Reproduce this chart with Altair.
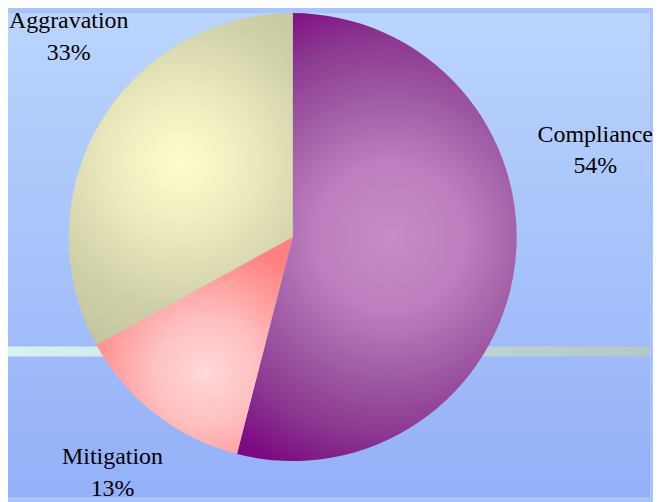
import math
import altair as alt
import pandas as pd

# ---- data ----
categories = ["Compliance", "Mitigation", "Aggravation"]
shares = [54, 13, 33]

df = pd.DataFrame({"category": categories, "share": shares})
df["end"] = df["share"].cumsum()
df["start"] = df["end"] - df["share"]
df["label"] = df["category"] + "\n" + df["share"].astype(str) + "%"

W, H = 645, 486
CX, CY, R = 286, 225, 225

bg_grad = {"gradient": "linear", "x1": 0, "y1": 0, "x2": 0, "y2": 1,
           "stops": [{"offset": 0, "color": "#bad5fd"},
                     {"offset": 1, "color": "#94b0f8"}]}
band_grad = {"gradient": "linear", "x1": 0, "y1": 0, "x2": 1, "y2": 0,
             "stops": [{"offset": 0, "color": "#d8f2f0"},
                       {"offset": 1, "color": "#b4c8c6"}]}

grads = {
    "Compliance": {"gradient": "radial", "x1": 0.53, "y1": 0.5, "x2": 0.53, "y2": 0.5,
                   "r1": 0, "r2": 0.56,
                   "stops": [{"offset": 0, "color": "#c88cc8"},
                             {"offset": 0.3, "color": "#bc7ebe"},
                             {"offset": 0.55, "color": "#a05ca4"},
                             {"offset": 0.8, "color": "#8a3690"},
                             {"offset": 1, "color": "#7e0a82"}]},
    "Mitigation": {"gradient": "radial", "x1": 0.55, "y1": 0.62, "x2": 0.55, "y2": 0.62,
                   "r1": 0, "r2": 0.6,
                   "stops": [{"offset": 0, "color": "#ffd8da"},
                             {"offset": 0.4, "color": "#ffc0c0"},
                             {"offset": 1, "color": "#ff8080"}]},
    "Aggravation": {"gradient": "radial", "x1": 0.5, "y1": 0.45, "x2": 0.5, "y2": 0.45,
                    "r1": 0, "r2": 0.6,
                    "stops": [{"offset": 0, "color": "#fffccc"},
                              {"offset": 0.3, "color": "#f0eec0"},
                              {"offset": 0.7, "color": "#d2d2aa"},
                              {"offset": 1, "color": "#c4c49e"}]},
}

label_pos = {"Compliance": (590, 129), "Mitigation": (105, 453), "Aggravation": (61, 15)}

one = pd.DataFrame({"k": [0]})
background = alt.Chart(one).mark_rect(fill=bg_grad, stroke=None).encode(
    x=alt.value(0), x2=alt.value(W), y=alt.value(0), y2=alt.value(H))
band = alt.Chart(one).mark_rect(fill=band_grad, stroke=None).encode(
    x=alt.value(0), x2=alt.value(W), y=alt.value(335), y2=alt.value(345))

theta_scale = alt.Scale(domain=[0, 100], range=[0, 2 * math.pi])
layers = [background, band]
for cat in categories:
    layers.append(
        alt.Chart(df).transform_filter(alt.datum.category == cat)
        .mark_arc(fill=grads[cat], radius=R, stroke=None)
        .encode(theta=alt.Theta("start:Q", scale=theta_scale),
                theta2="end:Q",
                x=alt.value(CX), y=alt.value(CY))
    )
for cat in categories:
    px, py = label_pos[cat]
    layers.append(
        alt.Chart(df).transform_filter(alt.datum.category == cat)
        .mark_text(fontSize=24, color="black", align="center", baseline="alphabetic",
                   lineBreak="\n", lineHeight=32)
        .encode(text="label:N", x=alt.value(px), y=alt.value(py))
    )

chart = alt.layer(*layers).properties(
    width=W, height=H, padding=0, background="#a8c4fa"
).configure_view(stroke=None).configure_text(font="Liberation Serif")

chart.save("out.html", embed_options={"renderer": "svg", "actions": False})
